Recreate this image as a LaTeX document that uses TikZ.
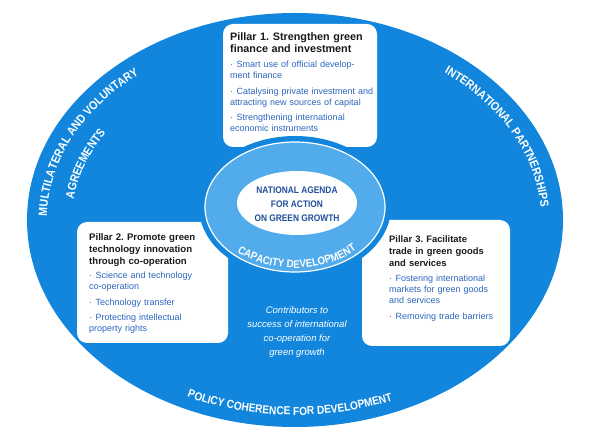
\documentclass[tikz,border=0pt]{standalone}
\usepackage{fontspec}
\setmainfont{Liberation Sans}
\newfontfamily\condbold[FakeStretch=0.88]{Liberation Sans Bold}
\usetikzlibrary{decorations.text}
\definecolor{dkblue}{HTML}{1286DD}
\definecolor{ltblue}{HTML}{52ACEB}
\definecolor{navy}{HTML}{1F4E9C}
\definecolor{itemblue}{HTML}{2C66BE}
\definecolor{titleblack}{HTML}{1A1A1A}
\newcommand\pitem[1]{\hangindent=6.5pt\hangafter=1\noindent\makebox[6.5pt][l]{·}#1\par}
\newcommand\pgap{\vspace{4.5pt}}
\newcommand\curvefontA{\condbold\fontsize{12}{12}\selectfont}
\newcommand\curvefontB{\condbold\fontsize{11.5}{11.5}\selectfont}
\newcommand\curvefontC{\condbold\fontsize{11}{11}\selectfont}
\tikzset{
  pillarbox/.style={fill=white, rounded corners=10pt},
  titlebox/.style={anchor=north west, inner sep=0pt, text width=150pt, align=left,
    font=\frenchspacing\fontsize{#1}{12}\selectfont\bfseries, text=titleblack},
  titlebox/.default=9.6,
  listbox/.style={anchor=north west, inner sep=0pt, text width=150pt, align=left,
    font=\fontsize{9}{11}\selectfont, text=itemblue},
  curvetext/.style={decorate, decoration={text along path, text align=center, text color=white, text={#1}}}
}
\begin{document}
\begin{tikzpicture}[x=1pt,y=1pt]
\useasboundingbox (0,0) rectangle (594,439);
% big ellipse
\fill[dkblue] (295,219) ellipse[x radius=268pt, y radius=207pt];
% pillar boxes
\fill[pillarbox] (223,292) rectangle (377,415);
\fill[pillarbox] (77,96) rectangle (228,217);
\fill[pillarbox] (362,93) rectangle (510,219);
% ring with gap
\fill[dkblue] (295,232) ellipse[x radius=96pt, y radius=71pt];
\filldraw[fill=ltblue, draw=white, line width=1.2pt] (295,232) ellipse[x radius=90pt, y radius=65pt];
\fill[white] (297,236) ellipse[x radius=60pt, y radius=32pt];
% pillar 1
\node[titlebox=10.8] (p1title) at (230,407) {Pillar 1. Strengthen green\\finance and investment};
\node[listbox] (p1list) at (230,378) {\pitem{Smart use of official develop-\\ment finance}\pgap\pitem{Catalysing private investment and\\attracting new sources of capital}\pgap\pitem{Strengthening international\\economic instruments}};
% pillar 2
\node[titlebox=9.6] (p2title) at (89,206) {Pillar 2. Promote green\\technology innovation\\through co-operation};
\node[listbox] (p2list) at (89,167) {\pitem{Science and technology\\co-operation}\pgap\pitem{Technology transfer}\pgap\pitem{Protecting intellectual\\property rights}};
% pillar 3
\node[titlebox=9.4] (p3title) at (389,204) {Pillar 3. Facilitate\\trade in green goods\\and services};
\node[listbox] (p3list) at (389,164) {\pitem{Fostering international\\markets for green goods\\and services}\pgap\pitem{Removing trade barriers}};
% centre
\node[align=center, text=navy, font=\condbold\fontsize{9.5}{14}\selectfont, inner sep=0pt] (agenda) at (297,235) {NATIONAL AGENDA\\FOR ACTION\\ON GREEN GROWTH};
\node[align=center, text=white, font=\fontsize{9.5}{14}\selectfont\itshape, inner sep=0pt] (contrib) at (297,107) {Contributors to\\success of international\\co-operation for\\green growth};
% curved labels
\path[curvetext={|\curvefontA|MULTILATERAL AND VOLUNTARY}] ([shift={(201:248pt and 187pt)}]295,219) arc[start angle=201, end angle=111, x radius=248pt, y radius=187pt];
\path[curvetext={|\curvefontA|AGREEMENTS}] ([shift={(208:223pt and 164pt)}]295,219) arc[start angle=208, end angle=118, x radius=223pt, y radius=164pt];
\path[curvetext={|\curvefontA|INTERNATIONAL PARTNERSHIPS}] ([shift={(71:246pt and 185pt)}]295,219) arc[start angle=71, end angle=-19, x radius=246pt, y radius=185pt];
\path[curvetext={|\curvefontB|POLICY COHERENCE FOR DEVELOPMENT}] ([shift={(198.5:256pt and 195pt)}]295,219) arc[start angle=198.5, end angle=338.5, x radius=256pt, y radius=195pt];
\path[curvetext={|\curvefontC|CAPACITY DEVELOPMENT}] ([shift={(202:86pt and 61pt)}]295,232) arc[start angle=202, end angle=342, x radius=86pt, y radius=61pt];
\end{tikzpicture}
\end{document}
